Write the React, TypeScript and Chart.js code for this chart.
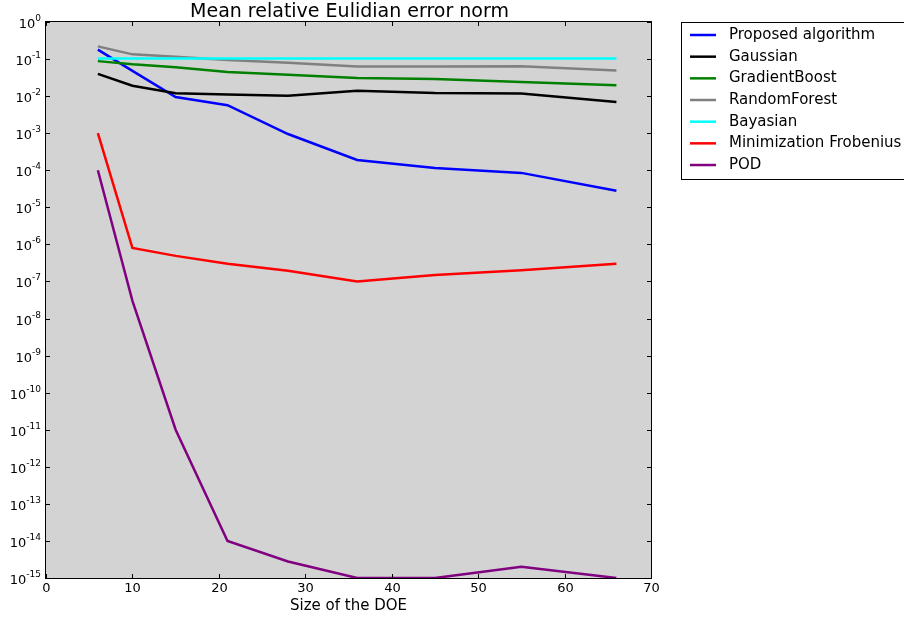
import React, { useEffect, useRef } from "react";
import { Chart, registerables } from "chart.js";
Chart.register(...registerables);

const doeSizes = [6, 10, 15, 21, 28, 36, 45, 55, 66];
const proposed = [0.18, 0.048, 0.0095, 0.0057, 0.00095, 0.00019, 0.000115, 0.000085, 0.000028];
const gaussian = [0.04, 0.019, 0.0119, 0.011, 0.0102, 0.014, 0.0122, 0.0118, 0.0069];
const gradientBoost = [0.088, 0.072, 0.06, 0.045, 0.038, 0.031, 0.029, 0.024, 0.0196];
const randomForest = [0.22, 0.134, 0.115, 0.095, 0.08, 0.063, 0.063, 0.064, 0.049];
const bayasian = [0.103, 0.103, 0.103, 0.103, 0.103, 0.103, 0.103, 0.103, 0.103];
const frobenius = [1e-3, 8e-7, 4.9e-7, 3e-7, 1.95e-7, 1e-7, 1.5e-7, 2e-7, 3e-7];
const pod = [1e-4, 3e-8, 1e-11, 1e-14, 2.8e-15, 1e-15, 1e-15, 2e-15, 1e-15];

const seriesNames = [
  "Proposed algorithm",
  "Gaussian",
  "GradientBoost",
  "RandomForest",
  "Bayasian",
  "Minimization Frobenius",
  "POD",
];
const seriesColors = ["#0000ff", "#000000", "#008000", "#808080", "#00ffff", "#ff0000", "#800080"];
const seriesValues = [proposed, gaussian, gradientBoost, randomForest, bayasian, frobenius, pod];

const xTicks = [0, 10, 20, 30, 40, 50, 60, 70];
const yExponents = [0, -1, -2, -3, -4, -5, -6, -7, -8, -9, -10, -11, -12, -13, -14, -15];

const titleText = "Mean relative Eulidian error norm";
const xTitle = "Size of the DOE";
const FONT = "'DejaVu Sans', sans-serif";

const decorPlugin = {
  id: "decor",
  beforeDraw(chart: any) {
    const { ctx, chartArea } = chart;
    ctx.save();
    ctx.fillStyle = "#ffffff";
    ctx.fillRect(0, 0, chart.width, chart.height);
    ctx.fillStyle = "#d3d3d3";
    ctx.fillRect(chartArea.left, chartArea.top, chartArea.right - chartArea.left, chartArea.bottom - chartArea.top);
    ctx.restore();
  },
  afterDraw(chart: any) {
    const { ctx, chartArea } = chart;
    const xs = chart.scales.x;
    const ys = chart.scales.y;
    const { left, right, top, bottom } = chartArea;
    ctx.save();
    // frame
    ctx.strokeStyle = "#000";
    ctx.lineWidth = 1;
    ctx.strokeRect(Math.round(left) - 0.5, Math.round(top) - 0.5, right - left + 1, bottom - top + 1);
    // x ticks
    ctx.fillStyle = "#000";
    ctx.font = `13px ${FONT}`;
    ctx.textAlign = "center";
    ctx.textBaseline = "top";
    xTicks.forEach((v) => {
      const px = Math.round(xs.getPixelForValue(v)) + 0.5;
      ctx.beginPath();
      ctx.moveTo(px, bottom);
      ctx.lineTo(px, bottom - 4);
      ctx.moveTo(px, top);
      ctx.lineTo(px, top + 4);
      ctx.stroke();
      ctx.fillText(String(v), px, bottom + 4);
    });
    // y ticks
    yExponents.forEach((e) => {
      const py = Math.round(ys.getPixelForValue(Math.pow(10, e))) + 0.5;
      ctx.beginPath();
      ctx.moveTo(left, py);
      ctx.lineTo(left + 4, py);
      ctx.moveTo(right, py);
      ctx.lineTo(right - 4, py);
      ctx.stroke();
      const expStr = String(e);
      ctx.font = `9px ${FONT}`;
      const supW = ctx.measureText(expStr).width;
      ctx.font = `13px ${FONT}`;
      const baseW = ctx.measureText("10").width;
      const xr = left - 5;
      ctx.textAlign = "left";
      ctx.textBaseline = "middle";
      ctx.fillText("10", xr - supW - baseW, py + 2);
      ctx.font = `9px ${FONT}`;
      ctx.fillText(expStr, xr - supW, py - 4);
    });
    // titles
    ctx.font = `19px ${FONT}`;
    ctx.textAlign = "center";
    ctx.textBaseline = "middle";
    ctx.fillText(titleText, (left + right) / 2 + 1, 12);
    ctx.font = `15px ${FONT}`;
    ctx.fillText(xTitle, (left + right) / 2, 606);
    // legend
    const lx = 681.5;
    const ly = 22.5;
    ctx.lineWidth = 1;
    ctx.strokeStyle = "#000";
    ctx.fillStyle = "#fff";
    ctx.fillRect(lx, ly, 240, 157);
    ctx.strokeRect(lx, ly, 240, 157);
    ctx.font = `15px ${FONT}`;
    ctx.textAlign = "left";
    ctx.textBaseline = "middle";
    chart.data.datasets.forEach((ds: any, i: number) => {
      const yy = 35 + i * 21.67;
      ctx.strokeStyle = ds.borderColor;
      ctx.lineWidth = 2.5;
      ctx.beginPath();
      ctx.moveTo(690, yy);
      ctx.lineTo(716, yy);
      ctx.stroke();
      ctx.fillStyle = "#000";
      ctx.fillText(ds.label, 729, yy);
    });
    ctx.restore();
  },
};

export default function App() {
  const ref = useRef<HTMLCanvasElement | null>(null);
  useEffect(() => {
    if (!ref.current) return;
    const chart = new Chart(ref.current, {
      type: "line",
      data: {
        datasets: seriesNames.map((name, i) => ({
          label: name,
          data: doeSizes.map((x, j) => ({ x, y: seriesValues[i][j] })),
          borderColor: seriesColors[i],
          backgroundColor: seriesColors[i],
          borderWidth: 2.5,
          pointRadius: 0,
          tension: 0,
          fill: false,
          order: seriesNames.length - i,
        })),
      },
      options: {
        animation: false,
        responsive: false,
        maintainAspectRatio: false,
        devicePixelRatio: 1,
        layout: { padding: { left: 46, right: 253, top: 22, bottom: 39 } },
        plugins: { legend: { display: false }, title: { display: false }, tooltip: { enabled: false } },
        scales: {
          x: { type: "linear", min: 0, max: 70, display: false },
          y: { type: "logarithmic", min: 1e-15, max: 1, display: false },
        },
      },
      plugins: [decorPlugin],
    });
    return () => chart.destroy();
  }, []);
  return (
    <div style={{ position: "fixed", left: 0, top: 0, width: 904, height: 617 }}>
      <canvas ref={ref} width={904} height={617} style={{ width: 904, height: 617 }} />
    </div>
  );
}
